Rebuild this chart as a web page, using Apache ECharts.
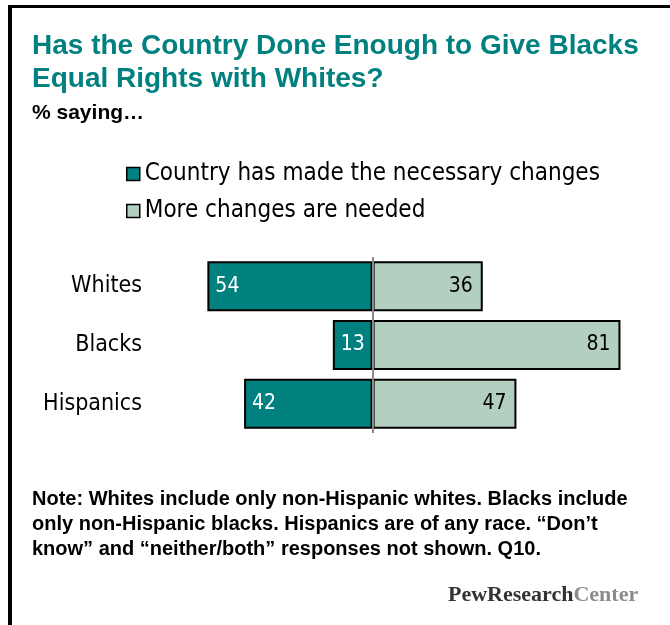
<!DOCTYPE html>
<html>
<head>
<meta charset="utf-8">
<script src="https://cdn.jsdelivr.net/npm/echarts@6/dist/echarts.min.js"></script>
<style>
  html, body { margin: 0; padding: 0; background: #fff; }
  #main { width: 670px; height: 625px; }
</style>
</head>
<body>
<div id="main"></div>
<script>
// data
var categories = ['Whites', 'Blacks', 'Hispanics'];
var madeChanges = [54, 13, 42];   // Country has made the necessary changes
var moreNeeded = [36, 81, 47];    // More changes are needed
var seriesNames = ['Country has made the necessary changes', 'More changes are needed'];

var teal = '#00807f';
var pale = '#b3cfbf';
var condensed = '"DejaVu Sans Condensed", "DejaVu Sans", sans-serif';
var narrow = '"Liberation Sans Narrow", "Liberation Sans", sans-serif';

var myChart = echarts.init(document.getElementById('main'));
myChart.setOption({
    animation: false,
    title: [{
        text: 'Has the Country Done Enough to Give Blacks\nEqual Rights with Whites?',
        left: 27,
        top: 25,
        textStyle: {
            color: teal,
            fontFamily: narrow,
            fontWeight: 'bold',
            fontSize: 28,
            lineHeight: 33
        }
    }, {
        text: '% saying\u2026',
        left: 27,
        top: 98,
        textStyle: {
            color: '#000',
            fontFamily: narrow,
            fontWeight: 'bold',
            fontSize: 21
        }
    }, {
        text: 'Note: Whites include only non-Hispanic whites. Blacks include\nonly non-Hispanic blacks. Hispanics are of any race. \u201cDon\u2019t\nknow\u201d and \u201cneither/both\u201d responses not shown. Q10.',
        left: 27,
        top: 482,
        textStyle: {
            color: '#000',
            fontFamily: narrow,
            fontWeight: 'bold',
            fontSize: 20,
            lineHeight: 25
        }
    }, {
        text: '{a|PewResearch}{b|Center}',
        left: 443,
        top: 579,
        textStyle: {
            rich: {
                a: { fontFamily: '"Liberation Serif", serif', fontSize: 22, color: '#333' },
                b: { fontFamily: '"Liberation Serif", serif', fontSize: 22, color: '#8c8c8c' }
            }
        }
    }],
    legend: {
        orient: 'vertical',
        left: 121,
        top: 157,
        icon: 'rect',
        itemWidth: 13,
        itemHeight: 13,
        itemGap: 13,
        itemStyle: { borderColor: '#000', borderWidth: 1.5 },
        textStyle: { fontFamily: condensed, fontSize: 24, lineHeight: 22, color: '#000' },
        data: seriesNames
    },
    grid: {
        left: 189,
        top: 257,
        width: 459,
        height: 176
    },
    xAxis: {
        type: 'value',
        min: -60,
        max: 90,
        show: false
    },
    yAxis: {
        type: 'category',
        data: categories,
        inverse: true,
        axisLine: { show: false, onZero: false },
        axisTick: { show: false },
        axisLabel: {
            margin: 47,
            fontFamily: condensed,
            fontSize: 23,
            color: '#000'
        }
    },
    graphic: [
        // frame lines on the left and top
        { type: 'rect', left: 8, top: 5, shape: { width: 4, height: 620 }, style: { fill: '#000' } },
        { type: 'rect', left: 8, top: 5, shape: { width: 662, height: 3 }, style: { fill: '#000' } },
        // the last row is cut off at the bottom in the original
        { type: 'rect', z: 100, left: 230, top: 430, shape: { width: 142, height: 8 }, style: { fill: '#fff' } },
        { type: 'rect', z: 100, left: 375, top: 430, shape: { width: 160, height: 8 }, style: { fill: '#fff' } }
    ],
    series: [{
        name: seriesNames[0],
        type: 'bar',
        stack: 'total',
        barWidth: 50,
        data: madeChanges.map(function (v) { return -v; }),
        itemStyle: { color: teal, borderColor: '#000', borderWidth: 2 },
        label: {
            show: true,
            position: 'insideLeft',
            distance: 8,
            color: '#fff',
            fontFamily: condensed,
            fontSize: 21,
            formatter: function (p) { return Math.abs(p.value); }
        }
    }, {
        name: seriesNames[1],
        type: 'bar',
        stack: 'total',
        barWidth: 50,
        data: moreNeeded,
        itemStyle: { color: pale, borderColor: '#000', borderWidth: 2 },
        label: {
            show: true,
            position: 'insideRight',
            distance: 10,
            color: '#000',
            fontFamily: condensed,
            fontSize: 21
        },
        markLine: {
            silent: true,
            symbol: 'none',
            label: { show: false },
            lineStyle: { color: '#8a8a8a', width: 2, type: 'solid' },
            data: [{ xAxis: 0 }]
        }
    }]
});
</script>
</body>
</html>
